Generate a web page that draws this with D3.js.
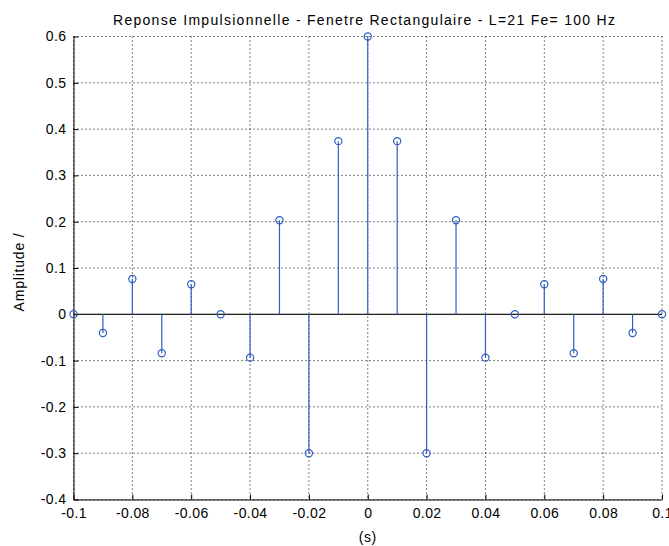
<!DOCTYPE html>
<html><head><meta charset="utf-8">
<script src="https://cdn.jsdelivr.net/npm/d3@7"></script>
<style>
body{margin:0;background:#fff;}
text{font-family:"Liberation Sans",Arial,Helvetica,sans-serif;}
</style></head>
<body><svg id="c" width="669" height="546"></svg>
<script>
const times = [-0.1,-0.09,-0.08,-0.07,-0.06,-0.05,-0.04,-0.03,-0.02,-0.01,0,0.01,0.02,0.03,0.04,0.05,0.06,0.07,0.08,0.09,0.1];
const amplitude = [0,-0.0404,0.0763,-0.0842,0.0648,0,-0.0936,0.203,-0.300,0.374,0.6,0.374,-0.300,0.203,-0.0936,0,0.0648,-0.0842,0.0763,-0.0404,0];
const xTicks = [-0.1,-0.08,-0.06,-0.04,-0.02,0,0.02,0.04,0.06,0.08,0.1];
const yTicks = [-0.4,-0.3,-0.2,-0.1,0,0.1,0.2,0.3,0.4,0.5,0.6];
const titleText = "Reponse Impulsionnelle - Fenetre Rectangulaire - L=21 Fe= 100 Hz";
const xLabel = "(s)";
const yLabel = "Amplitude /";

const svg = d3.select("#c");
const L=73.5, R=662, T=36.5, B=499.5;
const x = d3.scaleLinear().domain([-0.1,0.1]).range([L,R]);
const y = d3.scaleLinear().domain([-0.4,0.6]).range([B,T]);
const fmt = d => d===0 ? "0" : String(+d.toFixed(2));
const fs = 14;

// grid
const g = svg.append("g");
g.selectAll(".gx").data(xTicks).enter().append("line")
 .attr("x1",d=>x(d)).attr("x2",d=>x(d)).attr("y1",T).attr("y2",B)
 .attr("stroke","#000").attr("stroke-width",1).attr("stroke-dasharray","1,3");
g.selectAll(".gy").data(yTicks).enter().append("line")
 .attr("x1",L).attr("x2",R).attr("y1",d=>y(d)).attr("y2",d=>y(d))
 .attr("stroke","#000").attr("stroke-width",1).attr("stroke-dasharray","1,3");

// axes
const xa = svg.append("g").attr("transform",`translate(0,${B})`)
 .call(d3.axisBottom(x).tickValues(xTicks).tickFormat(fmt).tickSizeInner(-5).tickSizeOuter(0).tickPadding(9));
const ya = svg.append("g").attr("transform",`translate(${L},0)`)
 .call(d3.axisLeft(y).tickValues(yTicks).tickFormat(fmt).tickSizeInner(-5).tickSizeOuter(0).tickPadding(7));
[xa,ya].forEach(a=>{
  a.selectAll("text").attr("font-size",fs).attr("fill","#000")
   .attr("font-family","Liberation Sans, Arial, sans-serif").attr("letter-spacing","0.4px");
  a.selectAll("line").attr("stroke","#000");
  a.select(".domain").attr("stroke","#000");
});

// baseline
svg.append("line").attr("x1",x(-0.1)).attr("x2",x(0.1)).attr("y1",y(0)).attr("y2",y(0))
 .attr("stroke","#222").attr("stroke-width",1.2);

// stems
const col="#2f5ec4";
svg.selectAll(".stem").data(times).enter().append("line")
 .attr("x1",d=>x(d)).attr("x2",d=>x(d)).attr("y1",y(0)).attr("y2",(d,i)=>y(amplitude[i]))
 .attr("stroke",col).attr("stroke-width",1.2);
svg.selectAll(".mk").data(times).enter().append("circle")
 .attr("cx",d=>x(d)).attr("cy",(d,i)=>y(amplitude[i])).attr("r",3.6)
 .attr("fill","none").attr("stroke",col).attr("stroke-width",1.2);

// labels
svg.append("text").attr("x",364).attr("y",25).attr("text-anchor","middle").attr("font-size",fs)
 .attr("textLength",502).attr("lengthAdjust","spacing").text(titleText);
svg.append("text").attr("x",(L+R)/2).attr("y",542).attr("text-anchor","middle").attr("font-size",fs)
 .attr("letter-spacing","0.5px").text(xLabel);
svg.append("text").attr("transform",`translate(24,${272}) rotate(-90)`).attr("text-anchor","middle").attr("font-size",fs)
 .attr("letter-spacing","0.8px").text(yLabel);
</script></body></html>
